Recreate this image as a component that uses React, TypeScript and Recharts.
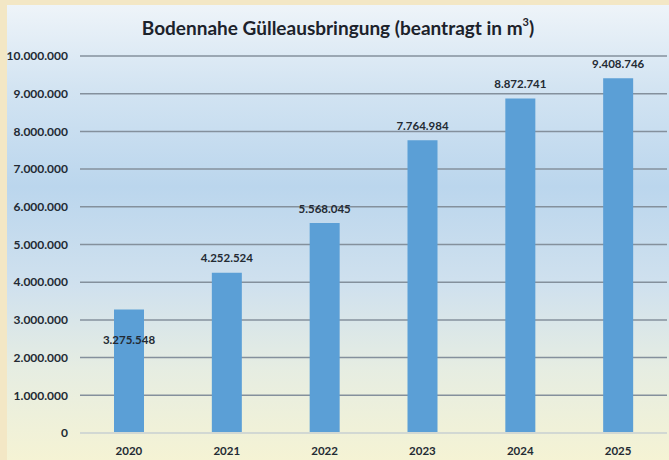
import { Bar, BarChart, CartesianGrid, LabelList, XAxis, YAxis } from 'recharts'

const years = ['2020', '2021', '2022', '2023', '2024', '2025']
const amounts = [3275548, 4252524, 5568045, 7764984, 8872741, 9408746]
const yTicks = [0, 1000000, 2000000, 3000000, 4000000, 5000000, 6000000, 7000000, 8000000, 9000000, 10000000]

const data = years.map((year, i) => ({ year, amount: amounts[i] }))

const FONT = 'Lato, "Open Sans", sans-serif'
const TEXT = '#232a33'

// german thousands separator
function formatDe(value: number) {
  return String(Math.round(value)).replace(/\B(?=(\d{3})+(?!\d))/g, '.')
}

function BarValueLabel(props: any) {
  const { x, y, width, value, index } = props
  // the first label sits inside the bar in the original
  const ly = index === 0 ? y + 30 : y - 15
  return (
    <text
      x={x + width / 2}
      y={ly}
      textAnchor="middle"
      dominantBaseline="central"
      fill={TEXT}
      fontSize={11.5}
      fontWeight={700}
      fontFamily={FONT}
    >
      {formatDe(value)}
    </text>
  )
}

export default function App() {
  return (
    <div style={{ width: 669, height: 460, background: '#f3e7c5', position: 'relative', overflow: 'hidden' }}>
      <style>{'body{margin:0}'}</style>
      <div
        style={{
          position: 'absolute',
          left: 7,
          top: 5,
          width: 662,
          height: 455,
          background:
            'linear-gradient(to bottom, #eef4f9 0%, #d3e4f2 18%, #bbd6ed 40%, #d0e1ee 62%, #e6ede2 80%, #f5f3d4 100%)',
        }}
      >
        <div
          style={{
            position: 'absolute',
            left: 0,
            top: 11,
            width: 662,
            textAlign: 'center',
            fontFamily: FONT,
            fontWeight: 700,
            fontSize: 19,
            color: '#1c222b',
            lineHeight: '24px',
          }}
        >
          Bodennahe Gülleausbringung (beantragt in m<sup style={{ fontSize: 11, verticalAlign: 'top', lineHeight: '12px' }}>3</sup>)
        </div>
        <BarChart width={662} height={455} data={data} margin={{ top: 51, right: 2, bottom: 0, left: 0 }}>
          <CartesianGrid vertical={false} stroke="#84909c" strokeWidth={1.5} />
          <XAxis
            dataKey="year"
            height={27}
            tickSize={0}
            tickMargin={14}
            axisLine={{ stroke: '#d2d8d3', strokeWidth: 2 }}
            tick={{ fill: TEXT, fontSize: 11.5, fontWeight: 700, fontFamily: FONT }}
          />
          <YAxis
            width={73}
            domain={[0, 10000000]}
            ticks={yTicks}
            interval={0}
            tickSize={0}
            tickMargin={12}
            axisLine={false}
            tickLine={false}
            tickFormatter={formatDe}
            tick={{ fill: TEXT, fontSize: 12, fontWeight: 700, fontFamily: FONT }}
          />
          <Bar dataKey="amount" fill="#5b9fd6" barSize={30} isAnimationActive={false}>
            <LabelList dataKey="amount" content={BarValueLabel} />
          </Bar>
        </BarChart>
      </div>
    </div>
  )
}
